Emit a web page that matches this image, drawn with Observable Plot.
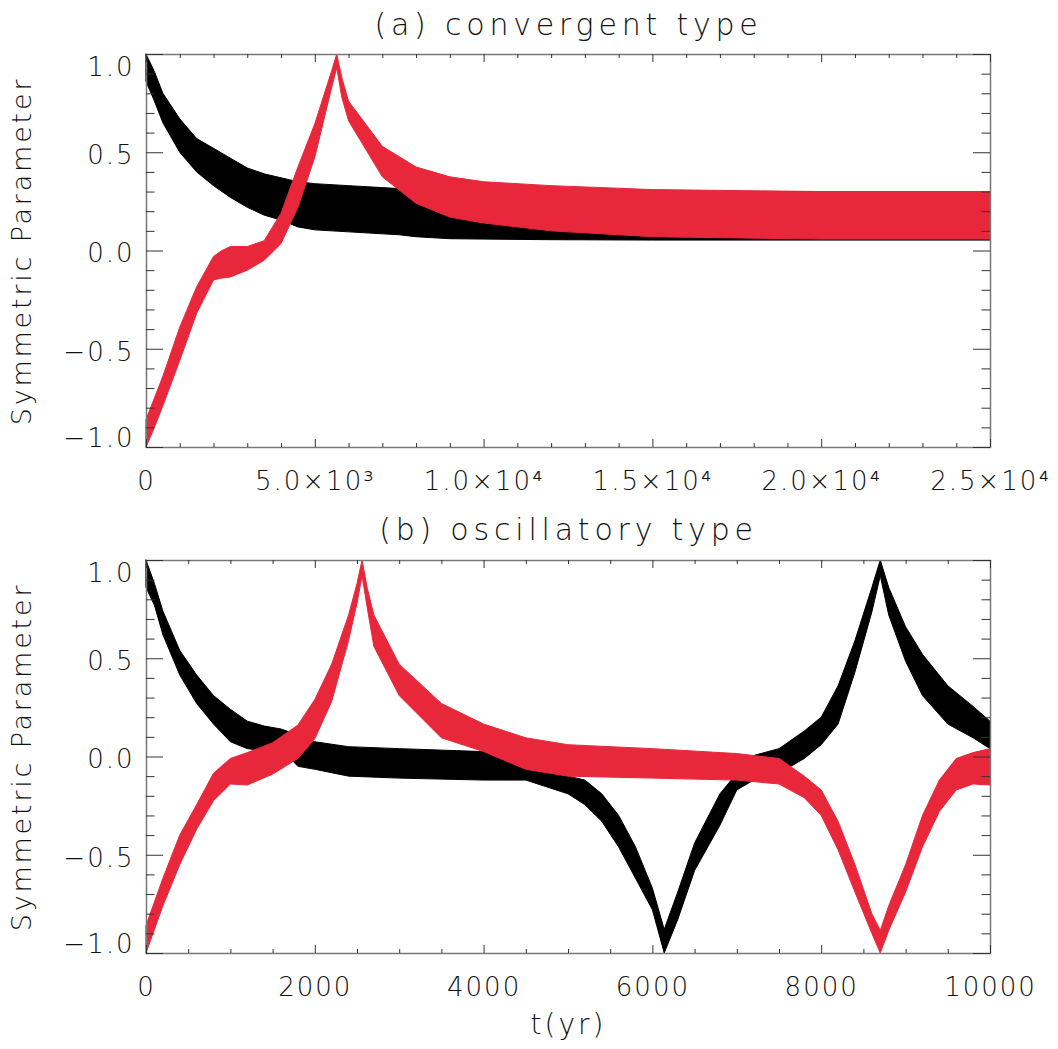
<!DOCTYPE html>
<html>
<head>
<meta charset="utf-8">
<script src="https://cdn.jsdelivr.net/npm/d3@7"></script>
<script src="https://cdn.jsdelivr.net/npm/@observablehq/plot@0.6"></script>
<style>
  html, body { margin: 0; padding: 0; background: #fff; }
  #chart { width: 1058px; }
  #chart svg { display: block; }
</style>
</head>
<body>
<div id="chart"></div>
<script>
// ---------- Panel (a): convergent type ----------
const aBlackT  = [0, 250, 500, 1000, 1500, 2000, 2500, 3000, 3500, 4000, 4500, 5000, 6000, 7000, 7500, 8000, 9000, 10000, 12000, 15000, 20000, 25000];
const aBlackHi = [1.0, 0.91, 0.8, 0.67, 0.57, 0.52, 0.47, 0.42, 0.39, 0.37, 0.35, 0.34, 0.33, 0.32, 0.315, 0.31, 0.31, 0.31, 0.305, 0.30, 0.30, 0.30];
const aBlackLo = [0.86, 0.76, 0.65, 0.5, 0.4, 0.33, 0.27, 0.22, 0.18, 0.155, 0.12, 0.105, 0.095, 0.085, 0.08, 0.07, 0.06, 0.058, 0.055, 0.053, 0.053, 0.053];

const aRedT  = [0, 250, 500, 1000, 1500, 2000, 2250, 2500, 3000, 3500, 4000, 4500, 5000, 5500, 5650, 5800, 6000, 7000, 8000, 9000, 10000, 12000, 15000, 20000, 25000];
const aRedHi = [-0.86, -0.75, -0.64, -0.39, -0.185, -0.03, 0.0, 0.02, 0.02, 0.05, 0.19, 0.425, 0.645, 0.915, 1.0, 0.88, 0.76, 0.53, 0.425, 0.375, 0.35, 0.33, 0.31, 0.30, 0.30];
const aRedLo = [-1.0, -0.9, -0.79, -0.56, -0.32, -0.15, -0.14, -0.135, -0.10, -0.05, 0.035, 0.22, 0.475, 0.83, 0.93, 0.78, 0.66, 0.375, 0.24, 0.17, 0.14, 0.10, 0.07, 0.058, 0.058];

const aXMajor  = [0, 5000, 10000, 15000, 20000, 25000];
const aXLabels = ["0", "5.0×10³", "1.0×10⁴", "1.5×10⁴", "2.0×10⁴", "2.5×10⁴"];
const aXMinor  = [1000, 2000, 3000, 4000, 6000, 7000, 8000, 9000, 11000, 12000, 13000, 14000, 16000, 17000, 18000, 19000, 21000, 22000, 23000, 24000];

// ---------- Panel (b): oscillatory type ----------
const bBlackT  = [0, 100, 200, 400, 600, 800, 1000, 1200, 1400, 1600, 1800, 2000, 2400, 3000, 4000, 4500, 5000, 5200, 5400, 5600, 5800, 6000, 6140, 6300, 6500, 6800, 7000, 7200, 7500, 7800, 8000, 8200, 8400, 8600, 8700, 8800, 9000, 9200, 9500, 9800, 10000];
const bBlackHi = [1.0, 0.88, 0.74, 0.54, 0.415, 0.31, 0.24, 0.18, 0.155, 0.14, 0.11, 0.075, 0.05, 0.04, 0.025, -0.03, -0.10, -0.12, -0.19, -0.30, -0.46, -0.67, -0.88, -0.69, -0.44, -0.19, -0.085, 0.005, 0.04, 0.13, 0.20, 0.36, 0.59, 0.86, 1.0, 0.86, 0.66, 0.52, 0.36, 0.255, 0.18];
const bBlackLo = [0.86, 0.77, 0.62, 0.415, 0.27, 0.165, 0.075, 0.04, 0.03, 0.04, -0.05, -0.065, -0.10, -0.11, -0.12, -0.12, -0.19, -0.245, -0.33, -0.46, -0.62, -0.78, -1.0, -0.83, -0.58, -0.35, -0.17, -0.12, -0.085, -0.01, 0.06, 0.165, 0.43, 0.735, 0.92, 0.72, 0.485, 0.31, 0.165, 0.095, 0.04];

const bRedT  = [0, 200, 400, 600, 800, 1000, 1200, 1500, 1800, 2000, 2200, 2400, 2500, 2560, 2620, 2700, 3000, 3500, 4000, 4500, 5000, 6000, 7000, 7500, 7800, 8000, 8200, 8400, 8600, 8700, 8800, 9000, 9200, 9400, 9600, 9800, 10000];
const bRedHi = [-0.86, -0.62, -0.40, -0.245, -0.085, -0.01, 0.02, 0.07, 0.16, 0.29, 0.47, 0.72, 0.88, 1.0, 0.86, 0.72, 0.47, 0.27, 0.165, 0.095, 0.06, 0.04, 0.015, -0.01, -0.10, -0.17, -0.33, -0.55, -0.80, -0.885, -0.76, -0.55, -0.30, -0.12, -0.01, 0.02, 0.04];
const bRedLo = [-1.0, -0.76, -0.55, -0.37, -0.225, -0.14, -0.145, -0.09, -0.01, 0.09, 0.28, 0.59, 0.78, 0.92, 0.76, 0.56, 0.31, 0.095, 0.025, -0.065, -0.10, -0.11, -0.12, -0.14, -0.21, -0.30, -0.475, -0.69, -0.90, -1.0, -0.885, -0.69, -0.46, -0.28, -0.17, -0.14, -0.145];

const bXMajor  = [0, 2000, 4000, 6000, 8000, 10000];
const bXLabels = ["0", "2000", "4000", "6000", "8000", "10000"];
const bXMinor  = [500, 1000, 1500, 2500, 3000, 3500, 4500, 5000, 5500, 6500, 7000, 7500, 8500, 9000, 9500];

// ---------- shared y ticks ----------
const yMajor  = [-1, -0.5, 0, 0.5, 1];
const yLabels = ["−1.0", "−0.5", "0.0", "0.5", "1.0"];
const yMinor  = [-0.9, -0.8, -0.7, -0.6, -0.4, -0.3, -0.2, -0.1, 0.1, 0.2, 0.3, 0.4, 0.6, 0.7, 0.8, 0.9];

const Y_TITLE = "Symmetric Parameter";
const X_TITLE = "t(yr)";

const RED = "#e8283a";
const FONT = "'DejaVu Sans', sans-serif";
const W = 1058, ML = 146, MR = 68;
const FW = W - ML - MR;   // frame width
const FH = 393;           // frame height

const rows = (T, Hi, Lo) => T.map((t, i) => ({t, hi: Hi[i], lo: Lo[i]}));

function panel({xDomain, xMajor, xMinor, xLabels, black, red, title, height, marginTop, marginBottom, titleDy, xLabel}) {
  const xFmt = new Map(xMajor.map((v, i) => [v, xLabels[i]]));
  const yFmt = new Map(yMajor.map((v, i) => [v, yLabels[i]]));
  const tickStroke = "#333";
  const marks = [
    Plot.areaY(black, {x: "t", y1: "lo", y2: "hi", fill: "#000", stroke: "#000", strokeWidth: 1}),
    Plot.areaY(red, {x: "t", y1: "lo", y2: "hi", fill: RED, stroke: RED, strokeWidth: 1}),
    Plot.frame({stroke: "#777", strokeWidth: 1.5}),
    // x ticks (inward, bottom & top)
    Plot.ruleX(xMajor, {insetTop: FH - 8, stroke: tickStroke}),
    Plot.ruleX(xMajor, {insetBottom: FH - 8, stroke: tickStroke}),
    Plot.ruleX(xMinor, {insetTop: FH - 4, stroke: tickStroke}),
    Plot.ruleX(xMinor, {insetBottom: FH - 4, stroke: tickStroke}),
    // y ticks (inward, left & right)
    Plot.ruleY(yMajor, {insetRight: FW - 17, stroke: tickStroke}),
    Plot.ruleY(yMajor, {insetLeft: FW - 17, stroke: tickStroke}),
    Plot.ruleY(yMinor, {insetRight: FW - 8.5, stroke: tickStroke}),
    Plot.ruleY(yMinor, {insetLeft: FW - 8.5, stroke: tickStroke}),
    // tick labels
    Plot.axisX({ticks: xMajor, tickSize: 0, tickPadding: 24, tickFormat: d => xFmt.get(d), label: null,
                fontSize: 26, fill: "#111"}),
    Plot.axisY({ticks: [1], tickSize: 0, tickPadding: 12, tickFormat: d => yFmt.get(d), label: null, dy: 13, fontSize: 26, fill: "#111"}),
    Plot.axisY({ticks: [-0.5, 0, 0.5], tickSize: 0, tickPadding: 12, tickFormat: d => yFmt.get(d), label: null, dy: 3, fontSize: 26, fill: "#111"}),
    Plot.axisY({ticks: [-1], tickSize: 0, tickPadding: 12, tickFormat: d => yFmt.get(d), label: null, dy: -9, fontSize: 26, fill: "#111"}),
    // titles / labels
    Plot.text([title], {frameAnchor: "top", dy: titleDy, fontSize: 30, fill: "#111", lineAnchor: "middle", textAnchor: "middle"}),
    Plot.text([Y_TITLE], {frameAnchor: "left", rotate: -90, dx: -124, fontSize: 27, fill: "#111",
                        lineAnchor: "middle", textAnchor: "middle"})
  ];
  if (xLabel) marks.push(Plot.text([xLabel], {frameAnchor: "bottom", dy: 72, fontSize: 28, fill: "#111",
                        lineAnchor: "middle", textAnchor: "middle"}));
  const svg = Plot.plot({
    width: W, height, marginLeft: ML, marginRight: MR, marginTop, marginBottom,
    x: {domain: xDomain}, y: {domain: [-1, 1]},
    style: `font-family: ${FONT}; font-size: 26px; font-weight: 200; letter-spacing: 2px; background: #fff; overflow: visible;`,
    marks
  });
  // wider letter spacing for the titles (the original uses a wide stroke font)
  const spacing = new Map([[title, "4.8px"], [Y_TITLE, "2.8px"], [X_TITLE, "3px"]]);
  d3.select(svg).selectAll("text").each(function () {
    const s = spacing.get(this.textContent);
    if (s) this.style.letterSpacing = s;
  });
  return svg;
}

const chart = document.getElementById("chart");
chart.append(panel({
  xDomain: [0, 25000], xMajor: aXMajor, xMinor: aXMinor, xLabels: aXLabels,
  black: rows(aBlackT, aBlackHi, aBlackLo), red: rows(aRedT, aRedHi, aRedLo),
  title: "(a) convergent type", height: 500, marginTop: 54, marginBottom: 53, titleDy: -29
}));
chart.append(panel({
  xDomain: [0, 10000], xMajor: bXMajor, xMinor: bXMinor, xLabels: bXLabels,
  black: rows(bBlackT, bBlackHi, bBlackLo), red: rows(bRedT, bRedHi, bRedLo),
  title: "(b) oscillatory type", height: 549, marginTop: 60, marginBottom: 96, titleDy: -30, xLabel: X_TITLE
}));
</script>
</body>
</html>
